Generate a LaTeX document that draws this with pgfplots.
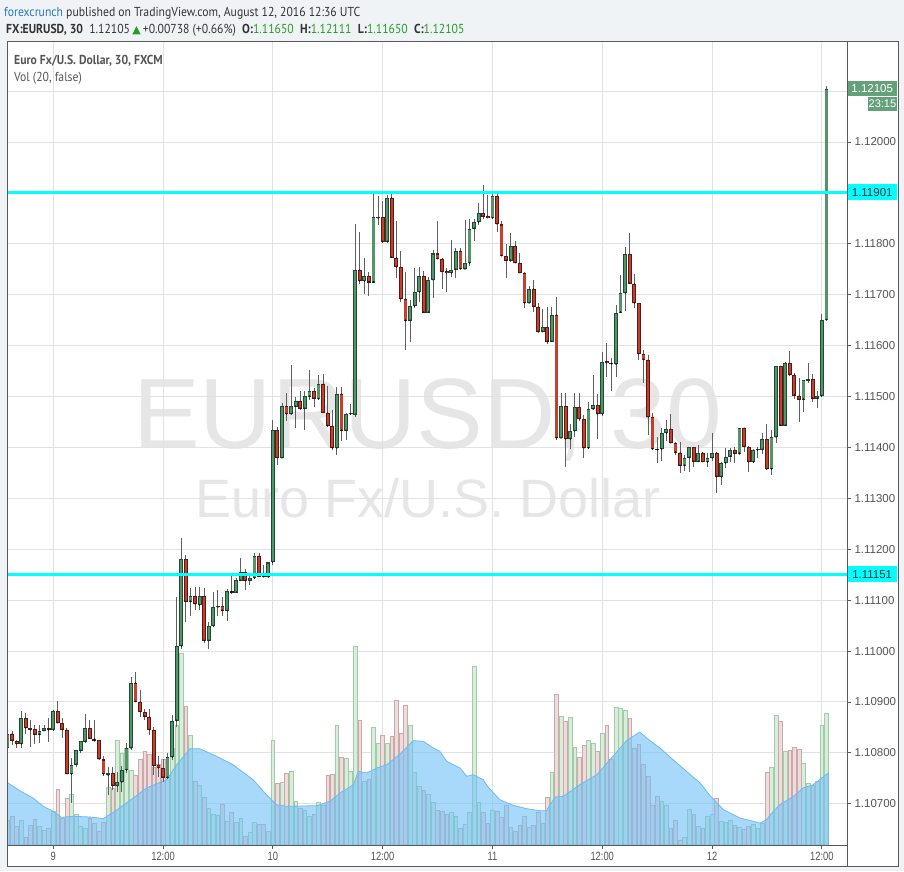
\documentclass[border=0pt]{standalone}
\usepackage{pgfplots}
\pgfplotsset{compat=1.18}
\usepackage{pgfplotstable}
\usepackage{fontspec}
\setmainfont{Liberation Sans}
\newfontfamily\hdrfont[FakeStretch=0.9]{PT Sans}
\newfontfamily\narrowfont[FakeStretch=0.78]{Liberation Sans}
\newfontfamily\symfont{DejaVu Sans}
\definecolor{bgc}{RGB}{240,243,246}
\definecolor{gridc}{RGB}{226,226,226}
\definecolor{framec}{RGB}{90,90,90}
\definecolor{upfill}{RGB}{83,148,105}
\definecolor{upline}{RGB}{30,75,50}
\definecolor{dnfill}{RGB}{200,62,45}
\definecolor{dnline}{RGB}{90,25,20}
\definecolor{wickc}{RGB}{95,95,95}
\definecolor{cyanl}{RGB}{0,255,255}
\definecolor{tv}{RGB}{85,85,85}
\definecolor{hdrtext}{RGB}{51,51,51}
\definecolor{pubblue}{RGB}{35,120,190}
\definecolor{okgreen}{RGB}{35,160,35}
\definecolor{lastgreen}{RGB}{100,160,122}
\definecolor{mafill}{RGB}{113,193,247}
\definecolor{maline}{RGB}{110,185,240}
\definecolor{volup}{RGB}{218,237,220}
\definecolor{volupl}{RGB}{160,205,168}
\definecolor{voldn}{RGB}{237,220,220}
\definecolor{voldnl}{RGB}{205,168,168}
\definecolor{wm}{RGB}{230,230,230}

% EUR/USD 30 min candles; prices in pips above 1.10000 (e.g. 190.1 = 1.11901); v = volume (relative)
\pgfplotstableread{
i o h l c v
-10 80.9 85.7 80.9 83.8 24.7
-9 83.8 84.3 81.5 82.4 28.7
-8 82.4 82.4 80.9 81.7 18.7
-7 81.7 88.2 80.9 86.8 24.7
-6 86.8 87.8 83.8 84.8 7.7
-5 84.8 86.4 81.1 84.4 19.7
-4 84.6 85.5 81.7 83.6 26.0
-3 83.6 85.5 81.9 84.3 18.7
-2 84.3 85.5 84.3 84.8 14.3
-1 84.8 86.8 82.2 84.4 17.0
0 84.5 88.4 84.2 88.2 33.7
1 88.2 90.2 85.8 85.8 55.7
2 85.8 86.8 83.0 84.5 27.0
3 84.5 84.8 75.8 75.8 46.3
4 75.8 78.9 70.1 77.7 50.3
5 77.7 80.6 77.3 80.6 30.3
6 80.4 82.4 80.0 82.3 18.7
7 82.2 87.6 81.9 84.8 17.0
8 84.8 86.4 82.8 82.8 26.3
9 82.8 86.4 82.2 82.4 22.0
10 82.5 82.5 78.6 78.7 13.7
11 78.7 79.4 75.4 75.8 22.3
12 75.6 77.3 71.7 76.0 57.7
13 76.0 77.3 72.7 73.5 57.0
14 73.5 76.3 72.4 74.2 104.7
15 74.2 77.4 72.4 76.6 92.0
16 76.6 81.9 76.0 80.9 97.0
17 80.9 95.0 80.5 93.8 75.0
18 93.8 95.9 90.0 90.0 70.0
19 90.0 92.3 87.1 88.0 86.0
20 88.0 88.7 86.4 87.1 94.0
21 87.1 88.7 83.5 84.5 90.7
22 84.5 85.0 75.6 77.4 78.0
23 77.6 79.3 75.3 77.0 80.7
24 77.0 78.7 74.3 75.1 86.0
25 75.1 79.9 75.0 79.1 70.0
26 79.1 87.4 78.6 86.3 97.0
27 86.3 110.7 85.1 100.9 120.0
28 100.9 122.3 100.5 118.0 192.0
29 118.0 118.9 105.8 109.7 139.0
30 109.7 112.3 106.8 110.8 110.0
31 110.8 112.6 108.1 109.2 64.0
32 109.0 112.6 108.1 110.8 60.0
33 110.8 112.3 101.5 102.0 48.0
34 102.0 105.8 100.5 104.9 37.0
35 104.9 111.7 104.8 108.6 31.0
36 108.6 112.0 106.8 108.9 30.0
37 108.8 110.7 106.8 107.9 41.0
38 107.9 112.2 106.0 111.8 24.0
39 111.8 114.7 111.2 111.5 33.0
40 111.5 114.3 111.5 114.0 23.0
41 113.8 118.3 113.8 115.5 27.0
42 115.5 116.2 111.9 113.8 8.7
43 113.8 115.3 113.0 114.3 12.3
44 114.3 119.2 114.1 118.7 22.3
45 118.7 119.2 114.6 114.6 20.7
46 114.9 116.9 114.5 114.5 20.7
47 114.5 117.5 114.5 117.4 13.7
48 117.4 145.3 116.9 143.4 104.7
49 143.4 144.1 136.5 137.9 61.3
50 137.9 148.7 137.9 148.1 62.3
51 148.1 150.6 145.1 146.5 71.7
52 146.5 156.2 146.5 148.1 73.7
53 148.0 150.0 143.8 149.1 43.7
54 149.1 151.0 147.4 147.6 37.0
55 147.6 151.0 143.4 150.1 34.3
56 150.0 155.2 149.3 151.1 28.7
57 151.1 151.6 148.0 149.6 31.0
58 149.5 154.2 149.3 152.5 42.3
59 152.5 154.4 146.8 146.8 40.0
60 146.8 152.1 144.1 144.2 69.7
61 144.2 147.4 139.5 139.8 70.3
62 139.8 151.9 138.5 150.5 119.3
63 150.5 151.9 141.3 143.3 87.7
64 143.3 146.7 141.5 146.5 87.0
65 146.5 148.5 146.4 146.8 73.3
66 146.4 183.9 146.0 174.9 198.7
67 174.9 182.4 172.2 172.6 124.3
68 172.6 177.3 170.1 173.7 63.7
69 173.7 174.5 169.8 172.4 65.7
70 172.4 190.1 172.4 185.2 117.3
71 185.0 189.4 183.7 185.3 101.3
72 185.2 188.5 180.1 180.4 109.3
73 180.4 189.6 180.2 189.1 101.3
74 189.1 189.9 177.3 177.3 108.7
75 177.3 184.4 173.2 175.4 144.3
76 175.4 178.5 168.6 169.1 111.3
77 169.1 174.5 159.1 164.9 139.7
78 164.9 169.0 160.8 167.8 119.3
79 167.7 175.2 167.3 170.5 72.3
80 170.5 175.4 168.6 173.7 58.3
81 173.7 174.7 166.5 166.5 55.0
82 166.5 173.4 166.5 172.9 50.3
83 172.9 178.8 169.3 178.1 42.3
84 178.1 184.4 177.0 177.0 34.7
85 177.0 177.2 171.1 174.5 33.7
86 174.7 175.2 170.6 174.2 31.0
87 174.2 180.8 173.5 174.9 32.7
88 174.9 179.1 173.2 178.6 28.7
89 178.6 179.1 175.0 175.0 16.7
90 175.0 184.7 175.0 176.2 20.7
91 176.2 184.8 175.6 183.0 32.7
92 183.0 184.8 180.6 184.2 178.7
93 184.2 188.0 183.7 186.0 42.7
94 186.0 191.6 184.8 185.3 32.7
95 185.5 189.6 185.0 185.0 21.7
96 185.0 189.9 185.0 189.4 34.7
97 189.4 189.9 182.4 183.8 33.3
98 183.8 184.4 177.6 177.6 27.7
99 177.6 180.0 173.2 176.7 39.7
100 176.7 182.2 176.5 179.6 17.7
101 179.6 180.6 176.2 176.2 13.7
102 176.2 178.1 174.2 174.2 19.7
103 174.2 174.5 167.3 168.3 28.3
104 168.3 171.7 168.3 171.2 17.7
105 171.2 172.9 166.7 167.6 19.7
106 167.6 168.3 162.5 162.7 32.7
107 162.7 167.1 162.7 163.6 21.7
108 163.6 167.5 160.4 160.8 47.7
109 160.8 167.5 160.8 166.1 72.3
110 166.1 169.5 141.5 141.8 150.7
111 141.8 150.6 141.8 148.1 128.3
112 148.1 150.6 136.1 141.6 123.7
113 141.6 144.7 139.6 143.2 127.3
114 143.2 150.6 142.1 147.9 97.3
115 147.9 150.6 145.1 145.5 87.3
116 145.5 146.4 137.9 139.8 99.3
117 139.8 149.0 139.8 147.5 104.3
118 147.5 154.2 147.3 148.3 101.3
119 148.3 150.5 141.6 146.5 93.3
120 146.5 158.8 146.2 156.8 111.3
121 157.0 160.6 153.8 156.5 119.3
122 156.6 157.5 151.0 156.3 85.3
123 156.3 168.0 153.8 166.5 138.0
124 166.5 173.9 166.5 170.3 137.0
125 170.3 179.4 166.9 178.0 134.3
126 178.0 182.1 172.2 172.2 126.3
127 172.2 174.1 167.3 168.3 96.3
128 168.3 168.4 157.2 158.3 100.3
129 158.3 159.1 152.7 157.2 80.3
130 157.2 158.2 142.4 145.9 68.3
131 145.9 146.8 139.5 139.6 39.3
132 139.7 142.1 137.0 139.4 48.3
133 139.6 143.9 137.4 142.8 43.3
134 142.8 145.4 141.3 143.7 39.3
135 143.7 146.6 140.8 140.8 16.7
136 140.8 141.0 138.5 139.0 24.3
137 139.0 141.0 135.0 136.4 4.7
138 136.4 138.5 135.4 138.0 7.3
139 138.0 140.1 135.2 140.0 35.3
140 140.0 140.1 136.2 137.2 30.7
141 137.2 140.5 137.2 139.0 18.3
142 139.0 139.2 137.1 137.1 17.0
143 137.1 139.0 136.2 137.9 28.3
144 137.9 142.9 137.4 139.0 30.3
145 139.0 139.2 131.1 134.2 46.3
146 134.2 137.2 132.6 136.9 23.3
147 136.9 139.8 135.9 138.2 22.7
148 138.2 139.8 137.2 139.5 24.3
149 139.5 140.1 137.0 138.8 19.3
150 138.8 143.9 138.7 143.9 17.3
151 143.9 143.9 139.2 140.1 15.3
152 140.1 140.3 135.2 137.1 18.3
153 137.1 139.6 137.0 139.5 20.3
154 139.4 140.1 138.0 139.7 16.3
155 139.5 142.9 138.7 141.6 21.3
156 141.6 144.7 135.6 135.7 72.3
157 135.7 143.4 134.6 142.0 77.3
158 142.0 156.0 140.9 156.0 129.3
159 156.0 156.0 144.3 144.3 123.3
160 144.3 156.8 144.3 156.5 93.3
161 156.5 159.0 154.0 154.3 94.3
162 154.3 154.7 149.6 150.2 97.3
163 150.2 153.6 144.9 149.4 95.3
164 149.4 153.2 147.0 153.2 81.3
165 153.1 156.5 152.6 153.4 61.3
166 153.4 154.4 149.0 149.6 59.7
167 149.6 151.0 147.7 150.1 63.3
168 150.1 166.3 150.0 165.0 119.3
169 165.0 211.1 165.0 210.5 131.3
}\candles

% Volume moving average (20)
\pgfplotstableread{
x h
-10.1 62.7
-7.3 54.3
-4.4 47.0
-2.2 38.7
0 33.7
1.8 27.7
4.4 28.7
8.0 28.0
10.9 26.3
13.5 33.7
17.5 47.0
20.4 57.0
24.8 65.3
27.0 80.3
29.9 96.3
32.0 96.3
35.7 88.7
39.3 80.3
43.7 65.3
46.6 50.3
48.8 40.3
51.0 38.7
57.6 39.3
60.5 43.7
62.7 52.0
65.6 60.3
66.7 73.7
68.5 72.0
70.7 77.0
72.9 80.3
75.8 91.0
78.7 104.3
80.9 103.7
83.1 97.0
84.5 93.7
86.0 83.7
88.9 77.0
90.4 68.7
91.8 70.3
94.0 65.3
95.1 57.7
97.6 45.3
100.5 39.7
103.5 36.3
106.4 34.3
107.8 34.3
109.7 48.0
111.5 48.7
115.1 60.3
118.8 70.3
121.7 85.3
125.3 104.3
128.2 113.0
129.7 107.0
132.6 97.0
135.5 85.3
138.4 73.7
141.4 62.0
143.5 49.7
146.5 35.3
150.1 27.0
154.5 22.0
155.9 25.3
157.4 33.7
158.8 40.3
161.8 48.7
163.9 57.0
166.1 60.3
168.9 70.3
169.4 72.0
}\volma

\pgfplotsset{chartgeom/.style={at={(7pt,26pt)}, anchor=south west,
  width=840pt, height=803pt, scale only axis, xmin=-10.1, xmax=173.5},
  nomark/.style={only marks, mark=*, mark size=0.1pt, mark options={draw=none, fill=none}, forget plot}}

\begin{document}
\begin{tikzpicture}
\fill[bgc] (0pt,0pt) rectangle (904pt,871pt);
\useasboundingbox (0pt,0pt) rectangle (904pt,871pt);
\fill[white] (7pt,5pt) rectangle (898pt,829pt);

% watermark
\node[anchor=base west, inner sep=0pt, text=wm, font=\fontsize{100}{100}\selectfont] at (133pt,422pt) {EURUSD, 30};
\node[anchor=base west, inner sep=0pt, text=wm, font=\fontsize{54}{54}\selectfont] at (195pt,354pt) {Euro Fx/U.S. Dollar};

% grid + tick labels
\begin{axis}[chartgeom, ymin=61.9, ymax=219.65,
  axis line style={draw=none},
  xtick={0,24,48,72,96,120,144,168},
  xticklabels={9,12:00,10,12:00,11,12:00,12,12:00},
  ytick={70,80,90,100,110,120,130,140,150,160,170,180,190,200,210},
  yticklabels={1.10700,1.10800,1.10900,1.11000,1.11100,1.11200,1.11300,1.11400,1.11500,1.11600,1.11700,1.11800,{},1.12000,{}},
  xtick pos=bottom, ytick pos=right, tick align=outside,
  major tick length=4pt,
  tick style={draw=framec, line width=0.8pt},
  grid=major, grid style={draw=gridc, line width=1pt},
  xticklabel style={font=\narrowfont\fontsize{12}{12}\selectfont, text=tv},
  yticklabel style={font=\fontsize{11.5}{12}\selectfont, text=tv, anchor=west},
]
\addplot[draw=none] coordinates {(0,100)};
\end{axis}

% volume
\begin{axis}[chartgeom, ymin=0, ymax=803, hide axis]
\addplot[ybar, bar width=0.82, bar shift=0pt, fill=volup, draw=volupl, line width=0.6pt,
  restrict expr to domain={\thisrow{c}-\thisrow{o}}{0:1000}] table[x=i,y=v] {\candles};
\addplot[ybar, bar width=0.82, bar shift=0pt, fill=voldn, draw=voldnl, line width=0.6pt,
  restrict expr to domain={\thisrow{o}-\thisrow{c}}{0.001:1000}] table[x=i,y=v] {\candles};
\addplot[fill=mafill, fill opacity=0.6, draw=maline, line width=0.8pt] table[x=x,y=h] {\volma} \closedcycle;
\end{axis}

% candles
\begin{axis}[chartgeom, ymin=61.9, ymax=219.65, hide axis, clip mode=individual]
\addplot[nomark,
  error bars/.cd, y dir=both, y explicit, error mark=none,
  error bar style={draw=wickc, line width=0.9pt}]
  table[x=i, y=o, y error plus expr=\thisrow{h}-\thisrow{o}, y error minus expr=\thisrow{o}-\thisrow{l}] {\candles};
% up bodies
\addplot[nomark, restrict expr to domain={\thisrow{c}-\thisrow{o}}{0:1000},
  error bars/.cd, y dir=plus, y explicit, error mark=none,
  error bar style={draw=upline, line width=3.8pt}]
  table[x=i, y=o, y error plus expr=\thisrow{c}-\thisrow{o}] {\candles};
\addplot[nomark, restrict expr to domain={\thisrow{c}-\thisrow{o}}{0:1000},
  error bars/.cd, y dir=plus, y explicit, error mark=none,
  error bar style={draw=upfill, line width=2.2pt}]
  table[x=i, y expr=\thisrow{o}+0.2, y error plus expr={max(\thisrow{c}-\thisrow{o}-0.4,0)}] {\candles};
% down bodies
\addplot[nomark, restrict expr to domain={\thisrow{o}-\thisrow{c}}{0.001:1000},
  error bars/.cd, y dir=plus, y explicit, error mark=none,
  error bar style={draw=dnline, line width=3.8pt}]
  table[x=i, y=c, y error plus expr=\thisrow{o}-\thisrow{c}] {\candles};
\addplot[nomark, restrict expr to domain={\thisrow{o}-\thisrow{c}}{0.001:1000},
  error bars/.cd, y dir=plus, y explicit, error mark=none,
  error bar style={draw=dnfill, line width=2.2pt}]
  table[x=i, y expr=\thisrow{c}+0.2, y error plus expr={max(\thisrow{o}-\thisrow{c}-0.4,0)}] {\candles};
% horizontal levels
\addplot[cyanl, line width=3pt] coordinates {(-10.1,190.1) (173.5,190.1)};
\addplot[cyanl, line width=3pt] coordinates {(-10.1,115.1) (173.5,115.1)};
% price labels
\node[anchor=west, fill=cyanl, text=hdrtext, minimum width=50pt, minimum height=16pt, inner sep=1pt,
  font=\fontsize{11.5}{12}\selectfont] at (axis cs:173.5,190.1) {1.11901};
\node[anchor=west, fill=cyanl, text=hdrtext, minimum width=50pt, minimum height=16pt, inner sep=1pt,
  font=\fontsize{11.5}{12}\selectfont] at (axis cs:173.5,115.1) {1.11151};
\node[anchor=west, fill=lastgreen, text=white, minimum width=50pt, minimum height=15pt, inner sep=1pt,
  font=\fontsize{11.5}{12}\selectfont] (lastp) at (axis cs:173.5,210.5) {1.12105};
\node[anchor=north east, fill=lastgreen, text=white, minimum width=28pt, minimum height=14pt, inner sep=1pt,
  font=\fontsize{11}{12}\selectfont] at ([yshift=-0.5pt]lastp.south east) {23:15};
\end{axis}

% frame
\draw[framec, line width=1pt] (7pt,5pt) rectangle (898pt,829pt);
\draw[framec, line width=1pt] (847pt,5pt) -- (847pt,829pt);
\draw[framec, line width=1pt] (7pt,26pt) -- (847pt,26pt);

% header
\node[anchor=base west, inner sep=0pt, font=\hdrfont\fontsize{13}{14}\selectfont] at (4pt,854pt)
  {\textcolor{pubblue}{forexcrunch} \textcolor{hdrtext}{published on TradingView.com, August 12, 2016 12:36 UTC}};
\node[anchor=base west, inner sep=0pt, text=hdrtext, font=\hdrfont\fontsize{13}{14}\selectfont] at (6pt,837pt)
  {\textbf{FX:EURUSD, 30}\ \ 1.12105\,{\symfont\fontsize{11}{12}\selectfont\textcolor{okgreen}{▲}}\,+0.00738 (+0.66\%)\ \ \textbf{O:}\textcolor{okgreen}{1.11650}\ \ \textbf{H:}\textcolor{okgreen}{1.12111}\ \ \textbf{L:}\textcolor{okgreen}{1.11650}\ \ \textbf{C:}\textcolor{okgreen}{1.12105}};
\node[anchor=base west, inner sep=0pt, text=tv, font=\hdrfont\bfseries\fontsize{13}{14}\selectfont] at (14pt,806pt)
  {Euro Fx/U.S. Dollar, 30, FXCM};
\node[anchor=base west, inner sep=0pt, text=tv, font=\hdrfont\fontsize{13}{14}\selectfont] at (14pt,789pt)
  {Vol (20, false)};
\end{tikzpicture}
\end{document}
